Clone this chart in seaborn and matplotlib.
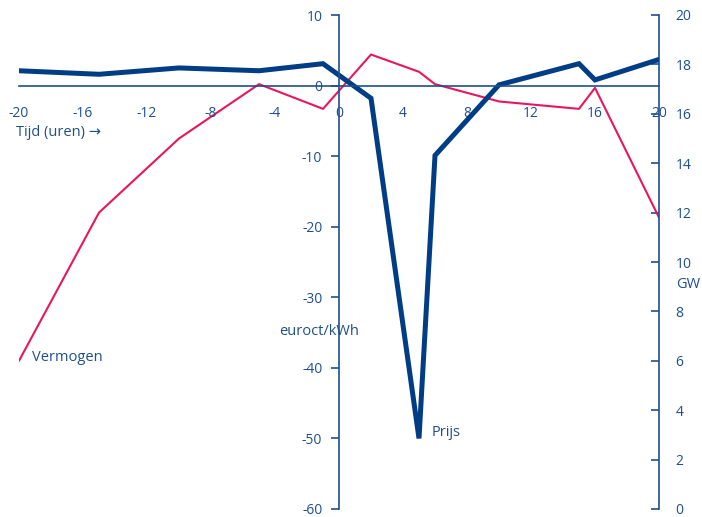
import pandas as pd
import numpy as np
import seaborn as sns
import matplotlib
matplotlib.use("Agg")
import matplotlib.pyplot as plt

# uren t.o.v. het moment van de prijsdip
uren = [-20, -15, -10, -5, -1, 2, 5, 6, 10, 15, 16, 20]
prijs = [2.1, 1.6, 2.5, 2.1, 3.1, -1.8, -50, -9.9, 0.1, 3.1, 0.8, 3.7]        # euroct/kWh
vermogen = [6.0, 12.0, 15.0, 17.2, 16.2, 18.4, 17.7, 17.2, 16.5, 16.2, 17.05, 11.8]  # GW

x_ticks = [-20, -16, -12, -8, -4, 0, 4, 8, 12, 16, 20]
left_ticks = [10, 0, -10, -20, -30, -40, -50, -60]
right_ticks = [0, 2, 4, 6, 8, 10, 12, 14, 16, 18, 20]

df = pd.DataFrame({"uur": uren, "prijs": prijs, "vermogen": vermogen})

sns.set_style("white")
plt.rcParams['font.family'] = ['Open Sans', 'DejaVu Sans']

txt = "#1f4f8f"
blauw = "#003d85"
roze = "#e8175d"

fig = plt.figure(figsize=(7.02, 5.17), dpi=100)
ax = fig.add_axes([19/702, 8/517, 640/702, 494/517])
ax2 = ax.twinx()

sns.lineplot(data=df, x="uur", y="vermogen", ax=ax2, color=roze, linewidth=1.5)
sns.lineplot(data=df, x="uur", y="prijs", ax=ax, color=blauw, linewidth=3.6,
             solid_joinstyle="miter")
ax.set_zorder(ax2.get_zorder() + 1)
ax.patch.set_visible(False)

ax.set_xlim(-20, 20)
ax.set_ylim(-60, 10)
ax2.set_ylim(0, 20)

ax.spines['left'].set_position(('data', 0))
ax.spines['bottom'].set_position(('data', 0))
ax.spines['top'].set_visible(False)
ax.spines['right'].set_visible(False)
for s in ['left', 'top', 'bottom']:
    ax2.spines[s].set_visible(False)
for sp in [ax.spines['left'], ax.spines['bottom'], ax2.spines['right']]:
    sp.set_color(txt)
    sp.set_linewidth(1.2)

ax.set_xticks(x_ticks)
ax.set_xticklabels([str(v) for v in x_ticks])
ax.set_yticks(left_ticks)
ax.set_yticklabels([str(v) for v in left_ticks])
ax2.set_yticks(right_ticks)
ax2.set_yticklabels([str(v) for v in right_ticks])

ax.tick_params(axis='x', direction='out', length=4, width=1.2, color=txt,
               labelcolor=txt, labelsize=10, pad=11)
ax.tick_params(axis='y', direction='out', length=6, width=1.2, color=txt,
               labelcolor=txt, labelsize=10, pad=6)
ax2.tick_params(axis='y', direction='in', length=6, width=1.2, color=txt,
                labelcolor=txt, labelsize=10, pad=12)

ax.set_xlabel("")
ax.set_ylabel("")
ax2.set_ylabel("")

ax.text(-20.2, -6.7, "Tijd (uren) \u2192", color=txt, fontsize=10.5, va='center', ha='left')
ax.text(-19.2, -38.5, "Vermogen", color=txt, fontsize=10.5, va='center', ha='left')
ax.text(-3.75, -34.9, "euroct/kWh", color=txt, fontsize=10.5, va='center', ha='left')
ax.text(5.8, -49.1, "Prijs", color=txt, fontsize=10.5, va='center', ha='left')
ax2.text(21.1, 9.1, "GW", color=txt, fontsize=10.5, va='center', ha='left')

fig.savefig("out.png", dpi=100)
